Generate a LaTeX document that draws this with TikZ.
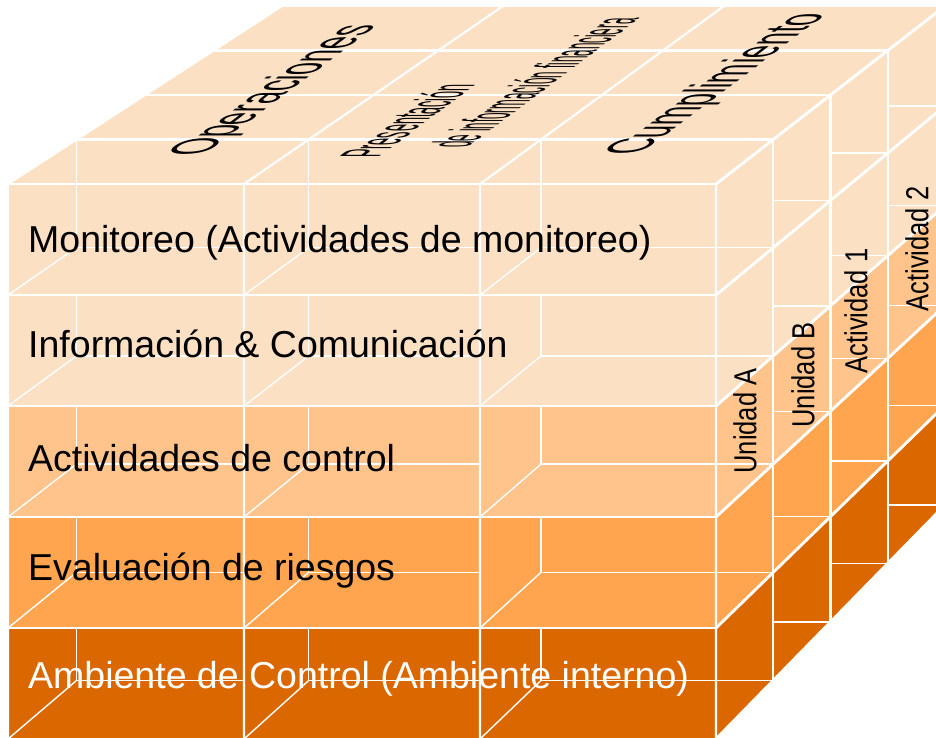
\documentclass[tikz,border=0pt]{standalone}
\usepackage{fontspec}
\usepackage{graphicx}
\setmainfont{Liberation Sans}
\usetikzlibrary{calc}

\definecolor{durazno}{HTML}{FCE0C4}
\definecolor{naranjaclaro}{HTML}{FFC38C}
\definecolor{naranja}{HTML}{FFA550}
\definecolor{naranjaosc}{HTML}{DB6700}

\begin{document}
\begin{tikzpicture}[
  x=1pt, y=-1pt,
  arista/.style={white, line width=2.2pt, line join=round},
  diagonal/.style={white, line width=2.9pt, line join=round},
  interior/.style={white, line width=1.4pt, line join=round},
  fila/.style={font=\fontsize{37.5}{40}\selectfont, anchor=base west, inner sep=0pt},
  tapa/.style={font=\fontsize{38.5}{40}\selectfont, anchor=base west, inner sep=0pt, transform shape},
  tapachica/.style={font=\fontsize{24}{26}\selectfont, anchor=base west, inner sep=0pt, transform shape},
  lado/.style={font=\fontsize{25.5}{27}\selectfont, rotate=90, inner sep=0pt},
]
  \useasboundingbox (0,0) rectangle (936,737);
  \clip (0,0) rectangle (936,737);

  % Planos de profundidad k = 0 (frente) ... 4 (fondo)
  \foreach \k in {0,...,4} {
    \pgfmathsetmacro\Lk{8+68.5*\k}
    \pgfmathsetmacro\Rk{716+57.25*\k}
    \pgfmathsetmacro\Tk{184-44.5*\k}
    \pgfmathsetmacro\Bk{739-58.5*\k}
    \foreach \u in {0,...,3}
      \foreach \v in {0,...,5}
        \coordinate (p-\k-\u-\v) at ({\Lk+\u*(\Rk-\Lk)/3}, {\Tk+\v*(\Bk-\Tk)/5});
  }

  % Cara superior
  \fill[durazno] (p-0-0-0) -- (p-4-0-0) -- (p-4-3-0) -- (p-0-3-0) -- cycle;

  % Componentes (frente y lado derecho)
  \foreach \v/\col in {0/durazno, 1/durazno, 2/naranjaclaro, 3/naranja, 4/naranjaosc} {
    \pgfmathtruncatemacro\w{\v+1}
    \fill[\col] (p-0-0-\v) rectangle (p-0-3-\w);
    \fill[\col] (p-0-3-\v) -- (p-4-3-\v) -- (p-4-3-\w) -- (p-0-3-\w) -- cycle;
  }

  % Lineas interiores de cada celda
  \foreach \u in {0,1,2}
    \foreach \v in {0,...,4} {
      \pgfmathtruncatemacro\w{\v+1}
      \pgfmathtruncatemacro\n{\u+1}
      \pgfmathtruncatemacro\kk{\v==0 ? 1 : 0}
      \pgfmathtruncatemacro\m{\u==2 ? 1 : 0}
      \draw[interior] (p-1-\u-\w |- p-\kk-0-\v) -- (p-1-\u-\w);
      \draw[interior] (p-1-\u-\w) -- (p-\m-\n-0 |- p-1-\u-\w);
      \draw[interior] (p-0-\u-\w) -- (p-1-\u-\w);
    }
  \foreach \k in {1,2,3}
    \foreach \v in {1,...,5} {
      \pgfmathtruncatemacro\kn{\k+1}
      \draw[interior] (p-\k-3-0 |- p-\kn-3-\v) -- (p-\kn-3-\v);
    }

  % Aristas principales
  \foreach \v in {0,...,5} {
    \draw[arista] (p-0-0-\v) -- (p-0-3-\v);
    \draw[diagonal] (p-0-3-\v) -- (p-4-3-\v);
  }
  \foreach \u in {0,...,3}
    \draw[arista] (p-0-\u-5) -- (p-0-\u-0) -- (p-4-\u-0);
  \foreach \k in {1,...,4}
    \draw[arista] (p-\k-0-0) -- (p-\k-3-0) -- (p-\k-3-5);

  % Componentes del control interno
  \node[fila] (monitoreo) at (28,252) {Monitoreo (Actividades de monitoreo)};
  \node[fila] (informacion) at (28,357) {Información \& Comunicación};
  \node[fila] (actividades) at (28,471) {Actividades de control};
  \node[fila] (evaluacion) at (28,580) {Evaluación de riesgos};
  \node[fila, white] (ambiente) at (28,688) {Ambiente de Control (Ambiente interno)};

  % Objetivos (cara superior)
  \begin{scope}[shift={(203,156)}, cm={0.8,0.6,-1.5,0,(0,0)}]
    \node[tapa] (operaciones) at (0,0) {Operaciones};
  \end{scope}
  \begin{scope}[shift={(378,158)}, cm={0.7,0.525,-2.4,0,(0,0)}]
    \node[tapachica] (presentacion) at (0,0) {Presentación};
  \end{scope}
  \begin{scope}[shift={(467,148)}, cm={0.644,0.483,-2.4,0,(0,0)}]
    \node[tapachica] (financiera) at (0,0) {de información financiera};
  \end{scope}
  \begin{scope}[shift={(639,155)}, cm={0.8,0.6,-1.5,0,(0,0)}]
    \node[tapa] (cumplimiento) at (0,0) {Cumplimiento};
  \end{scope}

  % Unidades y actividades (cara lateral)
  \node[lado] (unidadA) at (745,421) {\scalebox{1}[1.25]{Unidad A}};
  \node[lado] (unidadB) at (803,375) {\scalebox{1}[1.25]{Unidad B}};
  \node[lado] (actividad1) at (856,311) {\scalebox{1}[1.25]{Actividad 1}};
  \node[lado] (actividad2) at (917,249) {\scalebox{1}[1.25]{Actividad 2}};
\end{tikzpicture}
\end{document}
